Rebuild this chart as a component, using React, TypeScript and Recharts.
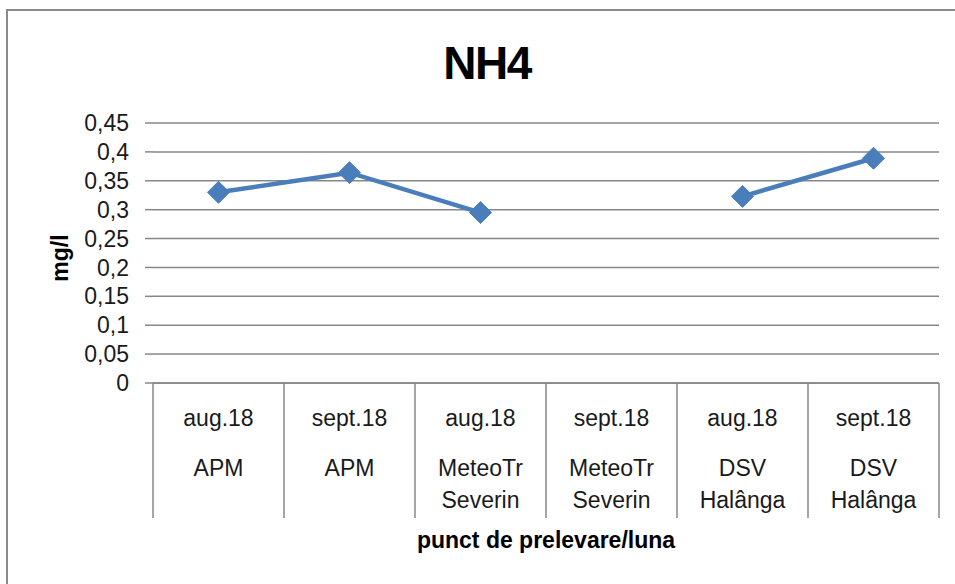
import React from 'react';
import { LineChart, Line, XAxis, YAxis, CartesianGrid } from 'recharts';

const TITLE = 'NH4';
const Y_LABEL = 'mg/l';
const X_LABEL = 'punct de prelevare/luna';
const MONTHS = ['aug.18', 'sept.18', 'aug.18', 'sept.18', 'aug.18', 'sept.18'];
const SITES: string[][] = [
  ['APM'],
  ['APM'],
  ['MeteoTr', 'Severin'],
  ['MeteoTr', 'Severin'],
  ['DSV', 'Halânga'],
  ['DSV', 'Halânga'],
];
const VALUES: (number | null)[] = [0.33, 0.364, 0.295, null, 0.323, 0.389];
const Y_TICKS = [0, 0.05, 0.1, 0.15, 0.2, 0.25, 0.3, 0.35, 0.4, 0.45];

const data = MONTHS.map((m, i) => ({ id: `${i}`, month: m, value: VALUES[i] }));

const W = 955;
const H = 584;
const PLOT_LEFT = 153;
const PLOT_RIGHT = 939;
const PLOT_TOP = 123;
const PLOT_BOTTOM = 383;
const BAND = (PLOT_RIGHT - PLOT_LEFT) / MONTHS.length;
const GRID = '#878787';
const BLUE = '#4a7ebb';
const FONT = '"Liberation Sans", Arial, sans-serif';
const TEXT = '#1a1a1a';

const CategoryTick = (props: any) => {
  const { x, y, index } = props;
  const half = BAND / 2;
  const last = index === MONTHS.length - 1;
  return (
    <g>
      <line x1={x - half} x2={x - half} y1={y} y2={y + 135} stroke={GRID} strokeWidth={1.5} />
      {last && <line x1={x + half} x2={x + half} y1={y} y2={y + 135} stroke={GRID} strokeWidth={1.5} />}
      <text x={x} y={y + 35} textAnchor="middle" dominantBaseline="central" fontSize={23} fontFamily={FONT} fill={TEXT}>
        {MONTHS[index]}
      </text>
      {SITES[index].map((s, k) => (
        <text key={k} x={x} y={y + 85 + k * 32} textAnchor="middle" dominantBaseline="central" fontSize={23} fontFamily={FONT} fill={TEXT}>
          {s}
        </text>
      ))}
    </g>
  );
};

const Diamond = (props: any) => {
  const { cx, cy, value } = props;
  if (value === null || value === undefined || cx == null || cy == null) return <g key={props.index} />;
  const r = 11;
  return (
    <path
      key={props.index}
      d={`M${cx},${cy - r}L${cx + r},${cy}L${cx},${cy + r}L${cx - r},${cy}Z`}
      fill={BLUE}
      stroke={BLUE}
    />
  );
};

export default function App() {
  return (
    <div style={{ position: 'absolute', left: 0, top: 0, width: W, height: H, overflow: 'hidden', background: '#fff', fontFamily: FONT }}>
      <div style={{ position: 'absolute', left: 6, top: 9, width: 1200, height: 1200, border: '2px solid #8a8a8a', boxSizing: 'border-box' }} />
      <LineChart
        width={W}
        height={H}
        data={data}
        margin={{ top: PLOT_TOP, right: W - PLOT_RIGHT, bottom: 0, left: 0 }}
        style={{ position: 'absolute', left: 0, top: 0 }}
      >
        <CartesianGrid vertical={false} stroke={GRID} strokeWidth={1.5} />
        <XAxis
          dataKey="id"
          type="category"
          height={H - PLOT_BOTTOM}
          padding={{ left: BAND / 2, right: BAND / 2 }}
          tickLine={false}
          tickSize={0}
          tickMargin={0}
          axisLine={{ stroke: GRID, strokeWidth: 1.5 }}
          tick={<CategoryTick />}
          interval={0}
        />
        <YAxis
          width={PLOT_LEFT}
          domain={[0, 0.45]}
          ticks={Y_TICKS}
          axisLine={false}
          tickLine={{ stroke: GRID, strokeWidth: 1.5 }}
          tickSize={8}
          tickMargin={16}
          tickFormatter={(v: number) => String(v).replace('.', ',')}
          tick={{ fontSize: 23, fontFamily: FONT, fill: TEXT }}
          interval={0}
        />
        <Line
          dataKey="value"
          stroke={BLUE}
          strokeWidth={4.5}
          isAnimationActive={false}
          connectNulls={false}
          dot={<Diamond />}
          activeDot={false}
        />
      </LineChart>
      <div style={{ position: 'absolute', left: 487 - 150, width: 300, top: 40, textAlign: 'center', fontSize: 46, lineHeight: '46px', fontWeight: 'bold', color: '#000', letterSpacing: -1.5 }}>
        {TITLE}
      </div>
      <div style={{ position: 'absolute', left: PLOT_LEFT, width: PLOT_RIGHT - PLOT_LEFT, top: 529, textAlign: 'center', fontSize: 23, lineHeight: '23px', fontWeight: 'bold', color: '#000' }}>
        {X_LABEL}
      </div>
      <div style={{ position: 'absolute', left: 60 - 50, top: 258 - 12, width: 100, height: 24, textAlign: 'center', fontSize: 23, lineHeight: '24px', fontWeight: 'bold', color: '#000', transform: 'rotate(-90deg)' }}>
        {Y_LABEL}
      </div>
    </div>
  );
}
